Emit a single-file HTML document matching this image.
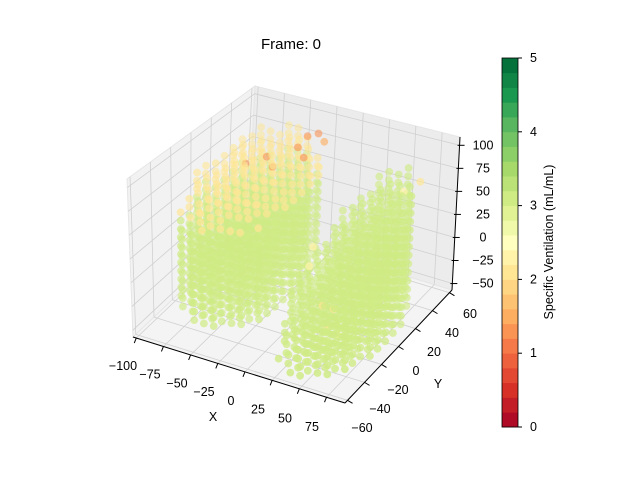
<!DOCTYPE html>
<html><head><meta charset="utf-8"><style>
body{margin:0;background:#fff;}
svg{display:block;font-family:"Liberation Sans","DejaVu Sans",sans-serif;}
</style></head><body>
<svg id="chart" width="640" height="480" viewBox="0 0 640 480">
<rect width="640" height="480" fill="#fff"/>
<text x="291" y="49" font-size="15" text-anchor="middle">Frame: 0</text>
<g id="panes"></g>
<g id="grid"></g>
<g id="pts"></g>
<g id="axes"></g>
<g id="cbar"></g>
</svg>
<script>
// axis ticks
const xTicks=[-100,-75,-50,-25,0,25,50,75];
const yTicks=[-60,-40,-20,0,20,40,60];
const zTicks=[-50,-25,0,25,50,75,100];
const cbTicks=[0,1,2,3,4,5];
// lung volume definitions: [cx, cy, rx, ry, zBottom, zTopBase, zTopSlopeY, zTopSlopeX, value]
const lungLeft=[-55,8,45,50,-55,72,25,10,3.0];
const lungRight=[42,0,42,56,-62,30,55,25,3.0];
// value bands (left lung upper region is lower ventilation)
const upperLeftValue=[2.15];
const upperLeftZ=[45];
// low-value spots [x,y,z,value]
const lowSpots=[[-60,30,70,1.2],[-50,25,66,1.2],[-40,40,78,1.2],[-30,35,74,1.3],[-40,50,82,1.3],[-30,50,88,1.4],[-20,45,86,1.5],[-75,25,62,1.3]];
const rightSpots=[[40,-25,-10,2.1],[50,-25,-10,2.1],[40,-20,-35,2.1],[50,-20,-40,2.2],[60,40,60,2.2],[75,40,75,2.1],[10,0,20,2.2],[15,-10,10,2.2]];

const X0=-103,X1=92,Y0=-63,Y1=63,Z0=-57,Z1=109;
// screen positions of the 8 box corners [u][v][w]
const C={"000":[133,337],"100":[345,403],"110":[452,290],"010":[248,228],
"001":[127,179],"101":[351,233],"111":[460,137],"011":[255,86]};
function P(u,v,w){let x=0,y=0;
 for(const a of[0,1])for(const b of[0,1])for(const c of[0,1]){
  const wt=(a?u:1-u)*(b?v:1-v)*(c?w:1-w);const p=C[""+a+b+c];x+=wt*p[0];y+=wt*p[1];}
 return [x,y];}
const nu=x=>(x-X0)/(X1-X0), nv=y=>(y-Y0)/(Y1-Y0), nw=z=>(z-Z0)/(Z1-Z0);
function proj(x,y,z){return P(nu(x),nv(y),nw(z));}
const NS="http://www.w3.org/2000/svg";
function el(t,a,p){const e=document.createElementNS(NS,t);for(const k in a)e.setAttribute(k,a[k]);p.appendChild(e);return e;}
const ptsStr=a=>a.map(p=>p.join(",")).join(" ");

// colormap RdYlGn
const cmK=["#a50026","#d73027","#f46d43","#fdae61","#fee08b","#ffffbf","#d9ef8b","#a6d96a","#66bd63","#1a9850","#006837"];
function hx(h){return[parseInt(h.slice(1,3),16),parseInt(h.slice(3,5),16),parseInt(h.slice(5,7),16)];}
function cmap(t){t=Math.max(0,Math.min(1,t));const s=t*10,i=Math.min(9,Math.floor(s)),f=s-i;const a=hx(cmK[i]),b=hx(cmK[i+1]);
 return "rgb("+a.map((v,k)=>Math.round(v+(b[k]-v)*f)).join(",")+")";}
const NB=25;
function colorOf(v){const t=v/5;const bi=Math.min(NB-1,Math.floor(t*NB));return cmap((bi+0.5)/NB);}

// panes
const panes=document.getElementById('panes');
const pw=el('polygon',{points:ptsStr([C["000"],C["010"],C["011"],C["001"]]),fill:"#f2f2f2",stroke:"#e6e6e6"},panes);

const pb=el('polygon',{points:ptsStr([C["010"],C["110"],C["111"],C["011"]]),fill:"#ececec",stroke:"#e6e6e6"},panes);

const pf=el('polygon',{points:ptsStr([C["000"],C["100"],C["110"],C["010"]]),fill:"#f4f4f4",stroke:"#e6e6e6"},panes);


// grid
const grid=document.getElementById('grid');
function gl(a,b){const l=el('line',{x1:a[0],y1:a[1],x2:b[0],y2:b[1],stroke:"#d0d0d0","stroke-width":0.8},grid);
 }
xTicks.forEach(t=>{const u=nu(t);gl(P(u,0,0),P(u,1,0));gl(P(u,1,0),P(u,1,1));});
yTicks.forEach(t=>{const v=nv(t);gl(P(0,v,0),P(1,v,0));gl(P(0,v,0),P(0,v,1));});
zTicks.forEach(t=>{const w=nw(t);gl(P(0,0,w),P(0,1,w));gl(P(0,1,w),P(1,1,w));});

// points
const points=[];
function lung(L,isLeft){const[cx,cy,rx,ry,zb,zt,sy,sx,val]=L;
 for(let x=cx-rx;x<=cx+rx;x+=9)for(let y=cy-ry;y<=cy+ry;y+=9){
  const dx=(x-cx)/rx,dy=(y-cy)/ry;if(dx*dx+dy*dy>1.05)continue;
  let top=zt+sy*dy+sx*(isLeft?-dx:dx);
  top-=15*(dx*dx+dy*dy);
  let bot=zb+10*(dx*dx+dy*dy);
  for(let z=bot;z<=top;z+=9){
   let v=val;if(isLeft&&z>upperLeftZ[0]+10*dy)v=upperLeftValue[0];
   points.push([x,y,z,v]);}
 }}
lung(lungLeft,true);lung(lungRight,false);
lowSpots.forEach(s=>points.push(s));
rightSpots.forEach(s=>points.push(s));
// depth: closeness to viewer (front corner is xmax,ymin)
points.forEach(p=>{p.push(nu(p[0])*0.5+(1-nv(p[1]))*0.87+nw(p[2])*0.3);});
points.sort((a,b)=>a[4]-b[4]);
const g=document.getElementById('pts');
const dmin=Math.min(...points.map(p=>p[4])),dmax=Math.max(...points.map(p=>p[4]));
points.forEach(p=>{const s=proj(p[0],p[1],p[2]);
 const a=0.45+0.4*(p[4]-dmin)/(dmax-dmin);
 const c=el('circle',{cx:s[0].toFixed(1),cy:s[1].toFixed(1),r:3.9,fill:colorOf(p[3]),"fill-opacity":a.toFixed(2)},g);
 
 });

// axes
const ax=document.getElementById('axes');
function al(a,b,nm){const l=el('line',{x1:a[0],y1:a[1],x2:b[0],y2:b[1],stroke:"#000","stroke-width":1},ax);
 }
function tx(x,y,s,nm,anchor){const t=el('text',{x:x,y:y,"font-size":12.5,"text-anchor":anchor||"middle"},ax);t.textContent=s;
 }
al(C["000"],C["100"],'x-axis-line');al(C["100"],C["110"],'y-axis-line');al(C["110"],C["111"],'z-axis-line');
const lab=v=>(v<0?"\u2212"+(-v):""+v);
xTicks.forEach(t=>{const u=nu(t);const a=P(u,0,0);al(a,[a[0]-2,a[1]+5],'x-tick');
 const f=(t+100)/175;tx(123+f*(312-123),370+f*(431-370),lab(t),'x-tick-label');});
yTicks.forEach(t=>{const v=nv(t);const a=P(1,v,0);al(a,[a[0]+5,a[1]+3],'y-tick');
 const f=(t+60)/120;tx(362+f*(470-362),432+f*(318-432),lab(t),'y-tick-label');});
zTicks.forEach(t=>{const w=nw(t);const a=P(1,1,w);al([a[0]-2,a[1]],[a[0]+5,a[1]],'z-tick');
 tx(483,a[1]+4,lab(t),'z-tick-label');});
tx(213,421,"X",'x-axis-title');tx(438,388,"Y",'y-axis-title');

// colorbar
const cb=document.getElementById('cbar');
const CBX=502,CBW=16,CBT=58,CBB=427;
for(let i=0;i<NB;i++){const y0=CBB-(i+1)*(CBB-CBT)/NB;
 const r=el('rect',{x:CBX,y:y0.toFixed(2),width:CBW,height:((CBB-CBT)/NB+0.4).toFixed(2),fill:cmap((i+0.5)/NB)},cb);
 }
const fr=el('rect',{x:CBX,y:CBT,width:CBW,height:CBB-CBT,fill:"none",stroke:"#000","stroke-width":0.8},cb);

cbTicks.forEach(t=>{const y=CBB-t/5*(CBB-CBT);
 const l=el('line',{x1:CBX+CBW,y1:y,x2:CBX+CBW+4,y2:y,stroke:"#000"},cb);
 
 const tt=el('text',{x:530,y:y+4,"font-size":12.5},cb);tt.textContent=""+t;
 });
const cl=el('text',{x:0,y:0,"font-size":12.5,"text-anchor":"middle",transform:"translate(553,242) rotate(-90)"},cb);
cl.textContent="Specific Ventilation (mL/mL)";

</script>
</body></html>
